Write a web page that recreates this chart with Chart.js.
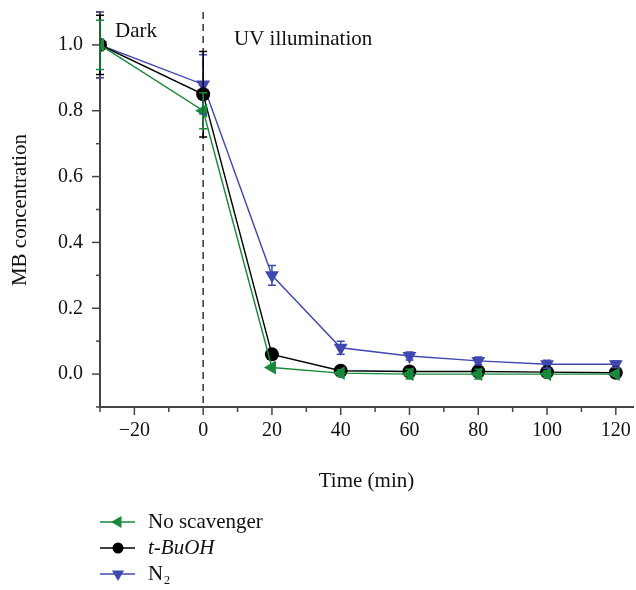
<!DOCTYPE html>
<html>
<head>
<meta charset="utf-8">
<script src="https://cdn.jsdelivr.net/npm/chart.js@4/dist/chart.umd.min.js"></script>
<style>
  html, body { margin: 0; padding: 0; background: #fff; }
  #wrap { width: 636px; height: 590px; }
</style>
</head>
<body>
<div id="wrap"><canvas id="mbChart" width="636" height="590"></canvas></div>
<script>
// 데이터
const times = [-30, 0, 20, 40, 60, 80, 100, 120];
const noScavenger = [1.0, 0.80, 0.02, 0.003, 0.0, 0.0, 0.0, 0.0];
const noScavengerErr = [0.075, 0.055, 0, 0.01, 0.015, 0.015, 0.01, 0];
const tBuOH = [1.0, 0.85, 0.06, 0.01, 0.008, 0.008, 0.006, 0.004];
const tBuOHErr = [0.09, 0.13, 0, 0, 0, 0, 0, 0];
const n2 = [1.0, 0.88, 0.30, 0.08, 0.055, 0.04, 0.03, 0.03];
const n2Err = [0.10, 0.09, 0.03, 0.02, 0.012, 0.012, 0.012, 0.01];
const seriesNames = ['No scavenger', 't-BuOH', 'N₂'];

const GREEN = '#178a3b';
const BLACK = '#000000';
const BLUE = '#3f48b0';
const AXIS = '#444';
const FONT = '"Liberation Serif", "DejaVu Serif", serif';

const toPoints = ys => times.map((t, i) => ({ x: t, y: ys[i] }));

// 오차막대
const errorBars = {
    id: 'errorBars',
    afterDatasetsDraw(chart) {
        const { ctx, scales: { x, y } } = chart;
        const errs = [noScavengerErr, tBuOHErr, n2Err];
        ctx.save();
        [2, 1, 0].forEach(di => {
            const ds = chart.data.datasets[di];
            ctx.strokeStyle = ds.borderColor;
            ctx.lineWidth = 1.5;
            ds.data.forEach((p, i) => {
                const e = errs[di][i];
                if (!e) return;
                const px = x.getPixelForValue(p.x);
                const y1 = y.getPixelForValue(p.y + e);
                const y2 = y.getPixelForValue(p.y - e);
                ctx.beginPath();
                ctx.moveTo(px, y1); ctx.lineTo(px, y2);
                ctx.moveTo(px - 4, y1); ctx.lineTo(px + 4, y1);
                ctx.moveTo(px - 4, y2); ctx.lineTo(px + 4, y2);
                ctx.stroke();
            });
        });
        ctx.restore();
    }
};

// 눈금, 점선, 글자, 범례
const decorations = {
    id: 'decorations',
    beforeDatasetsDraw(chart) {
        const { ctx, chartArea, scales: { x } } = chart;
        const px = x.getPixelForValue(0);
        ctx.save();
        ctx.strokeStyle = '#333';
        ctx.lineWidth = 1.5;
        ctx.setLineDash([7, 5]);
        ctx.beginPath();
        ctx.moveTo(px, chartArea.top);
        ctx.lineTo(px, chartArea.bottom);
        ctx.stroke();
        ctx.restore();
    },
    afterDraw(chart) {
        const { ctx, chartArea, scales: { x, y } } = chart;
        ctx.save();
        ctx.strokeStyle = AXIS;
        ctx.lineWidth = 1.5;
        x.ticks.forEach(t => {
            const px = x.getPixelForValue(t.value);
            const len = t.value % 20 === 0 ? 8 : 5;
            ctx.beginPath();
            ctx.moveTo(px, chartArea.bottom);
            ctx.lineTo(px, chartArea.bottom + len);
            ctx.stroke();
        });
        y.ticks.forEach(t => {
            const py = y.getPixelForValue(t.value);
            const major = Math.round(t.value * 10) % 2 === 0;
            ctx.beginPath();
            ctx.moveTo(chartArea.left, py);
            ctx.lineTo(chartArea.left - (major ? 8 : 4), py);
            ctx.stroke();
        });

        ctx.fillStyle = '#111';
        ctx.font = '21px ' + FONT;
        ctx.textBaseline = 'alphabetic';
        ctx.textAlign = 'left';
        ctx.fillText('Dark', 115, 37);
        ctx.fillText('UV illumination', 234, 45);

        ctx.textAlign = 'center';
        ctx.fillText('Time (min)', (chartArea.left + chartArea.right) / 2, 487);
        ctx.save();
        ctx.translate(26, 210);
        ctx.rotate(-Math.PI / 2);
        ctx.fillText('MB concentration', 0, 0);
        ctx.restore();

        // 범례
        const items = [
            { name: seriesNames[0], color: GREEN, style: 'triangle', rot: -90, italic: false },
            { name: seriesNames[1], color: BLACK, style: 'circle', rot: 0, italic: true },
            { name: seriesNames[2], color: BLUE, style: 'triangle', rot: 180, italic: false }
        ];
        items.forEach((it, i) => {
            const ly = 522 + i * 26;
            ctx.strokeStyle = it.color;
            ctx.lineWidth = 1.5;
            ctx.beginPath();
            ctx.moveTo(100, ly);
            ctx.lineTo(135, ly);
            ctx.stroke();
            ctx.fillStyle = it.color;
            Chart.helpers.drawPoint(ctx, { pointStyle: it.style, radius: it.style === 'circle' ? 5.5 : 7, rotation: it.rot, borderWidth: 0 }, 118, ly);
            ctx.fillStyle = '#111';
            ctx.textAlign = 'left';
            ctx.textBaseline = 'middle';
            ctx.font = (it.italic ? 'italic ' : '') + '21px ' + FONT;
            ctx.fillText(it.name, 148, ly);
        });
        ctx.restore();
    }
};

const makeSet = (label, ys, color, style, rot, radius) => ({
    label,
    data: toPoints(ys),
    borderColor: color,
    backgroundColor: color,
    pointBackgroundColor: color,
    pointBorderColor: color,
    borderWidth: 1.4,
    pointStyle: style,
    rotation: rot,
    pointRadius: radius,
    pointBorderWidth: 0,
    tension: 0
});

new Chart(document.getElementById('mbChart').getContext('2d'), {
    type: 'line',
    data: {
        datasets: [
            makeSet(seriesNames[0], noScavenger, GREEN, 'triangle', -90, 8),
            makeSet(seriesNames[1], tBuOH, BLACK, 'circle', 0, 7),
            makeSet(seriesNames[2], n2, BLUE, 'triangle', 180, 8)
        ]
    },
    options: {
        responsive: false,
        animation: false,
        layout: { autoPadding: false, padding: { top: 12, right: 3, left: 0, bottom: 0 } },
        plugins: { legend: { display: false }, tooltip: { enabled: false } },
        scales: {
            x: {
                type: 'linear',
                min: -30,
                max: 125,
                afterFit: s => {
                    s.height = 183;
                    s.paddingLeft = 0; s.paddingRight = 0;
                },
                afterBuildTicks: s => {
                    const t = [];
                    for (let v = -30; v <= 120; v += 10) t.push({ value: v });
                    s.ticks = t;
                },
                grid: { display: false, drawTicks: false },
                border: { display: true, color: AXIS, width: 2 },
                ticks: {
                    padding: 12,
                    color: '#111',
                    font: { family: FONT, size: 20 },
                    maxRotation: 0,
                    autoSkip: false,
                    callback: v => (v % 20 === 0 ? String(v).replace('-', '−') : '')
                }
            },
            y: {
                min: -0.1,
                max: 1.1,
                afterFit: s => {
                    s.width = 100;
                    s.paddingTop = 0; s.paddingBottom = 0;
                },
                afterBuildTicks: s => {
                    const t = [];
                    for (let k = -1; k <= 11; k++) t.push({ value: k / 10 });
                    s.ticks = t;
                },
                grid: { display: false, drawTicks: false },
                border: { display: true, color: AXIS, width: 2 },
                ticks: {
                    padding: 17,
                    color: '#111',
                    font: { family: FONT, size: 20 },
                    autoSkip: false,
                    callback: v => {
                        const k = Math.round(v * 10);
                        return (k >= 0 && k <= 10 && k % 2 === 0) ? (k / 10).toFixed(1) : '';
                    }
                }
            }
        }
    },
    plugins: [decorations, errorBars]
});
</script>
</body>
</html>
